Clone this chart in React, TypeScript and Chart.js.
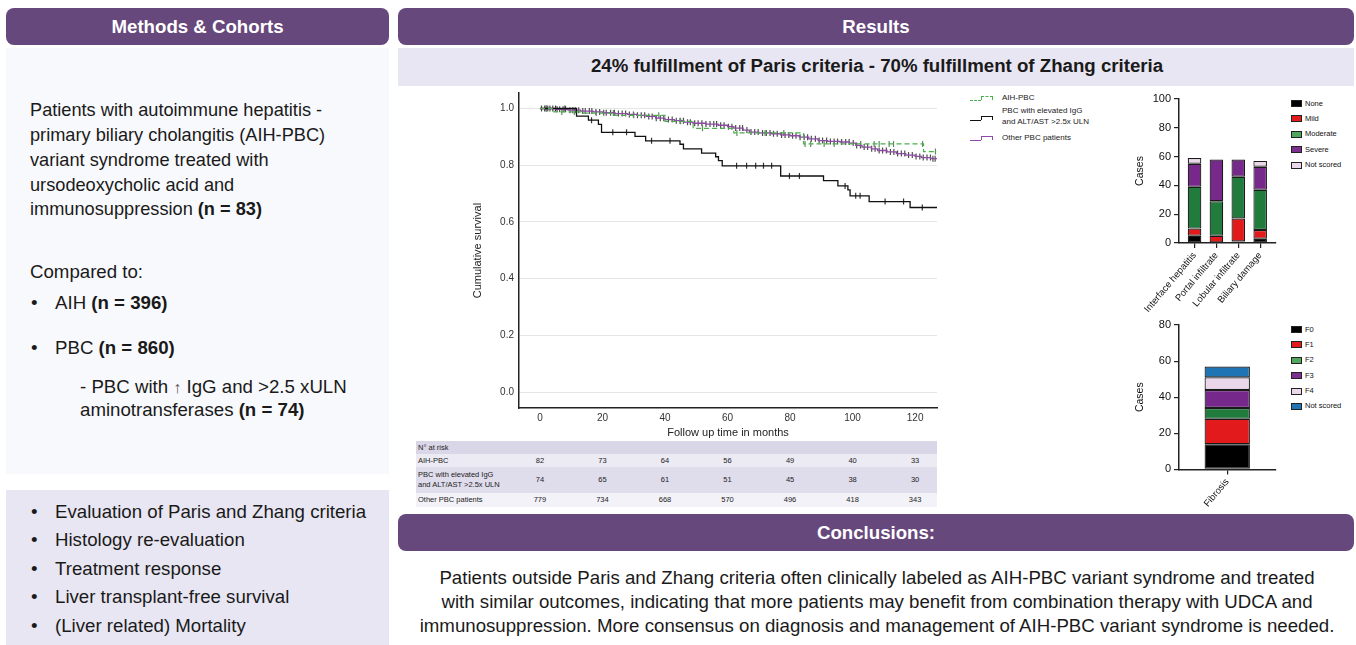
import React, { useEffect, useRef, useState } from 'react';
import { Chart, registerables } from 'chart.js';

Chart.register(...registerables);

// ---------------- Data ----------------
const kmXTicks = [0, 20, 40, 60, 80, 100, 120];
const kmYTicks = [0, 0.2, 0.4, 0.6, 0.8, 1.0];

const aihPbcTimes = [0, 4.5, 14, 24, 40, 49, 62, 84.3, 122.7, 127];
const aihPbcSurvival = [1.0, 0.988, 0.984, 0.976, 0.955, 0.93, 0.914, 0.875, 0.848, 0.848];
const aihPbcCensored = [2, 7, 11, 18, 23.5, 30, 38, 45, 52, 63, 72, 78, 84.8, 86.6, 90.9, 94.1, 102.6, 106.9, 108.5, 111.7, 113.1, 122.4, 126.5];

const pbcHighTimes = [0, 11.7, 15.5, 18.7, 19.7, 30.4, 33.8, 44.8, 45.9, 51.7, 56.2, 57.1, 58.3, 77, 90.7, 95.3, 98.5, 99.2, 105.3, 118.4, 127];
const pbcHighSurvival = [1.0, 0.973, 0.959, 0.944, 0.916, 0.902, 0.886, 0.874, 0.858, 0.843, 0.83, 0.816, 0.798, 0.762, 0.746, 0.727, 0.713, 0.692, 0.672, 0.651, 0.651];
const pbcHighCensored = [2, 5, 8, 16.5, 23.3, 27.7, 35.7, 41.6, 62.9, 66.1, 69, 71.5, 74.1, 79.8, 83, 97.6, 101, 102.4, 110.4, 116.3, 122.3];

const otherTimes = [0, 5, 9, 13, 17, 20, 24, 28, 31, 34, 37, 40, 43, 46, 49, 53, 57, 60, 62, 65, 67, 70, 74, 77, 80, 83, 86, 89, 92, 96, 99, 101, 103, 106, 108, 111, 114, 117, 120, 122, 125, 127];
const otherSurvival = [1.0, 0.997, 0.994, 0.991, 0.988, 0.985, 0.982, 0.979, 0.976, 0.972, 0.966, 0.961, 0.957, 0.952, 0.948, 0.945, 0.941, 0.936, 0.931, 0.924, 0.917, 0.914, 0.911, 0.907, 0.904, 0.899, 0.893, 0.887, 0.884, 0.882, 0.878, 0.87, 0.864, 0.858, 0.852, 0.847, 0.841, 0.836, 0.831, 0.827, 0.823, 0.821];
const otherCensored = [0.5, 1.5, 2.5, 3.2, 4.1, 5.5, 6.3, 7.4, 8.2, 9.6, 10.5, 11.3, 12.4, 13.7, 14.5, 15.8, 16.6, 17.9, 19.1, 20.4, 21.2, 22.6, 23.8, 25.1, 26.3, 27.4, 28.6, 29.9, 31.2, 32.4, 33.5, 34.8, 35.9, 37.2, 38.5, 39.6, 41.1, 42.3, 43.6, 44.8, 45.9, 47.2, 48.1, 49.5, 50.6, 51.8, 53.1, 54.4, 55.6, 56.5, 57.8, 58.9, 60.3, 61.4, 62.6, 63.9, 64.8, 66.2, 67.5, 68.7, 69.8, 71.2, 72.4, 73.6, 74.7, 75.9, 77.3, 78.4, 79.6, 80.8, 81.9, 83.2, 84.5, 85.6, 86.8, 88.1, 89.3, 90.4, 91.7, 92.9, 94.1, 95.2, 96.5, 97.8, 98.9, 100.2, 101.3, 102.5, 103.7, 104.8, 106.1, 107.2, 108.5, 109.6, 110.8, 112.1, 113.2, 114.4, 115.6, 116.7, 117.9, 119.1, 120.3, 121.5, 122.6, 123.8, 124.9, 125.7, 126.4];

const riskAihPbc = [82, 73, 64, 56, 49, 40, 33];
const riskPbcHigh = [74, 65, 61, 51, 45, 38, 30];
const riskOther = [779, 734, 668, 570, 496, 418, 343];

const histCategories = ['Interface hepatitis', 'Portal infiltrate', 'Lobular infiltrate', 'Biliary damage'];
const histSeries = ['None', 'Mild', 'Moderate', 'Severe', 'Not scored'];
const histNone = [5, 0, 1, 3];
const histMild = [5, 5, 16, 6];
const histModerate = [29, 24, 29, 28];
const histSevere = [16, 29, 12, 16];
const histNotScored = [4, 0, 0, 4];
const histYTicks = [0, 20, 40, 60, 80, 100];

const fibCategories = ['Fibrosis'];
const fibSeries = ['F0', 'F1', 'F2', 'F3', 'F4', 'Not scored'];
const fibF0 = [14];
const fibF1 = [14];
const fibF2 = [6];
const fibF3 = [10];
const fibF4 = [7];
const fibNotScored = [6];
const fibYTicks = [0, 20, 40, 60, 80];

// ---------------- Styles ----------------
const FONT = '"Liberation Sans", Arial, Helvetica, sans-serif';
const FS = 18.66;
const PURPLE = '#67487d';
const LAVENDER = '#e8e6f2';
const histColors = ['#000000', '#e31a1c', '#217b3d', '#76298b', '#ead7ea'];
const histLegendColors = ['#000000', '#e31a1c', '#4fa65c', '#7b2f8e', '#ead7ea'];
const fibColors = ['#000000', '#e31a1c', '#217b3d', '#76298b', '#ead7ea', '#1f74b4'];
const fibLegendColors = ['#000000', '#e31a1c', '#4fa65c', '#7b2f8e', '#ead7ea', '#1f74b4'];

Chart.defaults.font.family = FONT;

const KM = { left: 460, top: 88, width: 485, height: 352 };
const H1 = { left: 1120, top: 88, width: 165, height: 225 };
const H2 = { left: 1120, top: 313, width: 165, height: 195 };

const survAt = (times: number[], surv: number[], t: number) => {
  let s = surv[0];
  for (let i = 0; i < times.length; i++) if (times[i] <= t) s = surv[i];
  return s;
};
const steps = (times: number[], surv: number[]) => times.map((t, i) => ({ x: t, y: surv[i] }));
const marks = (cens: number[], times: number[], surv: number[]) => cens.map((t) => ({ x: t, y: survAt(times, surv, t) }));

function T(props: any) {
  const { x, cy, size = FS, lh = 24, bold = false, color = '#1a1a1a', align = 'left', w = 0, children } = props;
  const style: any = {
    position: 'absolute', top: cy - lh / 2, height: lh, lineHeight: lh + 'px', fontSize: size,
    fontWeight: bold ? 700 : 400, color, whiteSpace: 'nowrap',
  };
  if (align === 'center') { style.left = x - w / 2; style.width = w; style.textAlign = 'center'; }
  else style.left = x;
  return <div style={style}>{children}</div>;
}

function StepIcon(props: any) {
  const { left, top, color, dashed } = props;
  const st = dashed ? 'dashed' : 'solid';
  return (
    <>
      <div style={{ position: 'absolute', left, top: top + 4, width: 11, height: 0, borderTop: `1px ${st} ${color}` }} />
      <div style={{ position: 'absolute', left: left + 11, top, width: 10, height: 3, borderLeft: `1px ${st} ${color}`, borderTop: `1px ${st} ${color}`, borderRight: `1px ${st} ${color}` }} />
    </>
  );
}

function BarLegend(props: any) {
  const { labels, colors, centers } = props;
  return (
    <>
      {labels.map((l: string, i: number) => (
        <React.Fragment key={l}>
          <div style={{ position: 'absolute', left: 1291, top: centers[i] - 3.5, width: 11, height: 7, boxSizing: 'border-box', border: '1px solid #222', background: colors[i] }} />
          <T x={1305} cy={centers[i]} size={7.5} lh={10} color="#111">{l}</T>
        </React.Fragment>
      ))}
    </>
  );
}

const headerStyle = (left: number, top: number, width: number): any => ({
  position: 'absolute', left, top, width, height: 37, background: PURPLE, borderRadius: 8, color: '#fff',
  fontWeight: 700, fontSize: FS, display: 'flex', alignItems: 'center', justifyContent: 'center',
});

export default function App() {
  const kmRef = useRef<HTMLCanvasElement>(null);
  const h1Ref = useRef<HTMLCanvasElement>(null);
  const h2Ref = useRef<HTMLCanvasElement>(null);
  const [riskX, setRiskX] = useState<number[]>([]);

  useEffect(() => {
    const axisFont = { family: FONT, size: 10 };
    const titleFont = { family: FONT, size: 11 };
    const censorDs = (data: any[], color: string) => ({
      data, showLine: false, pointStyle: 'line', pointRotation: 90, pointRadius: 3,
      pointBorderColor: color, pointBorderWidth: 1.2, pointBackgroundColor: color, borderColor: color,
    });
    const km = new Chart(kmRef.current!, {
      type: 'line',
      data: {
        datasets: [
          { label: 'AIH-PBC', data: steps(aihPbcTimes, aihPbcSurvival), stepped: 'before', borderColor: '#4cae4c', borderDash: [5, 3], borderWidth: 1.2, pointRadius: 0, fill: false } as any,
          { label: 'PBC with elevated IgG and ALT/AST >2.5x ULN', data: steps(pbcHighTimes, pbcHighSurvival), stepped: 'before', borderColor: '#111111', borderWidth: 1.3, pointRadius: 0, fill: false },
          { label: 'Other PBC patients', data: steps(otherTimes, otherSurvival), stepped: 'before', borderColor: '#8e4aa5', borderWidth: 1.3, pointRadius: 0, fill: false },
          censorDs(marks(aihPbcCensored, aihPbcTimes, aihPbcSurvival), '#5a8f5a'),
          censorDs(marks(pbcHighCensored, pbcHighTimes, pbcHighSurvival), '#333333'),
          censorDs(marks(otherCensored, otherTimes, otherSurvival), '#4e4e4e'),
        ],
      },
      options: {
        animation: false, responsive: false, maintainAspectRatio: false,
        layout: { padding: { top: 5, right: 8, left: 0, bottom: 0 } },
        plugins: { legend: { display: false }, tooltip: { enabled: false } },
        scales: {
          x: {
            type: 'linear', min: -6.7, max: 127,
            afterBuildTicks: (s: any) => { s.ticks = kmXTicks.map((v) => ({ value: v })); },
            afterFit: (s: any) => { s.height = 32; s.paddingLeft = 0; s.paddingRight = 0; },
            grid: { display: false, drawTicks: false },
            border: { display: true, color: '#222', width: 1.5 },
            ticks: { font: axisFont, color: '#333', padding: 4, maxRotation: 0 },
            title: { display: true, text: 'Follow up time in months', font: titleFont, color: '#222', padding: { top: 0, bottom: 0 } },
          },
          y: {
            type: 'linear', min: -0.056, max: 1.054,
            afterBuildTicks: (s: any) => { s.ticks = kmYTicks.map((v) => ({ value: v })); },
            afterFit: (s: any) => { s.width = 59; s.paddingTop = 0; s.paddingBottom = 0; },
            grid: { color: '#e6e6e6', drawTicks: false, lineWidth: 1 },
            border: { display: true, color: '#222', width: 1.5 },
            ticks: { font: axisFont, color: '#333', padding: 5, callback: (v: any) => Number(v).toFixed(1) },
            title: { display: true, text: 'Cumulative survival', font: titleFont, color: '#222', padding: { top: 11, bottom: 0 } },
          },
        },
      } as any,
    });
    setRiskX(kmXTicks.map((t) => KM.left + km.scales.x.getPixelForValue(t)));

    const barScales = (yMax: number, yTicks: number[], xOpts: any, xHeight: number) => ({
      x: {
        ...xOpts,
        stacked: true,
        offset: xOpts.type === 'category',
        afterFit: (s: any) => { s.height = xHeight; s.paddingLeft = 0; s.paddingRight = 0; },
        grid: { offset: false, drawOnChartArea: false, drawTicks: true, tickLength: 5, color: '#222', lineWidth: 1.2 },
        border: { display: true, color: '#222', width: 1.5 },
        ticks: { ...(xOpts.ticks || {}), font: { family: FONT, size: 9.5 }, color: '#111', padding: 2, minRotation: 50, maxRotation: 50, autoSkip: false },
      },
      y: {
        stacked: true, min: 0, max: yMax,
        afterBuildTicks: (s: any) => { s.ticks = yTicks.map((v) => ({ value: v })); },
        afterFit: (s: any) => { s.width = 59; s.paddingTop = 0; s.paddingBottom = 0; },
        grid: { drawOnChartArea: false, drawTicks: true, tickLength: 5, color: '#222', lineWidth: 1.2 },
        border: { display: true, color: '#222', width: 1.5 },
        ticks: { font: { family: FONT, size: 11 }, color: '#111', padding: 3 },
        title: { display: true, text: 'Cases', font: { family: FONT, size: 10.5 }, color: '#111', padding: { top: 14, bottom: 0 } },
      },
    });

    const histValues = [histNone, histMild, histModerate, histSevere, histNotScored];
    const h1 = new Chart(h1Ref.current!, {
      type: 'bar',
      data: {
        datasets: histSeries.map((name, si) => ({
          label: name,
          data: histValues[si].map((v, ci) => ({ x: ci, y: v })),
          backgroundColor: histColors[si], borderColor: '#1a1a1a', borderWidth: 1.2, borderSkipped: false,
          categoryPercentage: 1, barPercentage: 0.62,
        })),
      },
      options: {
        animation: false, responsive: false, maintainAspectRatio: false,
        layout: { padding: { top: 11, right: 9.5, left: 0, bottom: 0 } },
        plugins: { legend: { display: false }, tooltip: { enabled: false } },
        scales: barScales(100, histYTicks, {
          type: 'linear', min: -0.71, max: 3.7,
          afterBuildTicks: (s: any) => { s.ticks = histCategories.map((_, i) => ({ value: i })); },
          ticks: { callback: (v: any) => histCategories[v] },
        }, 70),
      } as any,
    });

    const fibValues = [fibF0, fibF1, fibF2, fibF3, fibF4, fibNotScored];
    const h2 = new Chart(h2Ref.current!, {
      type: 'bar',
      data: {
        labels: fibCategories,
        datasets: fibSeries.map((name, si) => ({
          label: name, data: fibValues[si],
          backgroundColor: fibColors[si], borderColor: '#1a1a1a', borderWidth: 1.2, borderSkipped: false,
          categoryPercentage: 1, barPercentage: 0.47,
        })),
      },
      options: {
        animation: false, responsive: false, maintainAspectRatio: false,
        layout: { padding: { top: 12, right: 9.5, left: 0, bottom: 0 } },
        plugins: { legend: { display: false }, tooltip: { enabled: false } },
        scales: barScales(80, fibYTicks, { type: 'category' }, 38.6),
      } as any,
    });

    return () => { km.destroy(); h1.destroy(); h2.destroy(); };
  }, []);

  const riskRows = [
    { label: ['AIH-PBC'], values: riskAihPbc, top: 454, h: 13, bg: '#eceaf3' },
    { label: ['PBC with elevated IgG', 'and ALT/AST >2.5x ULN'], values: riskPbcHigh, top: 467, h: 26, bg: '#dfdcec' },
    { label: ['Other PBC patients'], values: riskOther, top: 493, h: 14, bg: '#f3f2f8' },
  ];

  const P = 18.2;

  return (
    <div style={{ position: 'absolute', left: 0, top: 0, width: 1356, height: 645, background: '#ffffff', fontFamily: FONT, overflow: 'hidden', color: '#1a1a1a' }}>
      {/* Left column */}
      <div style={headerStyle(6, 8, 383)}>Methods &amp; Cohorts</div>
      <div style={{ position: 'absolute', left: 6, top: 48, width: 383, height: 426, background: '#f8f9fc' }} />
      <T x={30} cy={110} size={P}>Patients with autoimmune hepatitis -</T>
      <T x={30} cy={135} size={P}>primary biliary cholangitis (AIH-PBC)</T>
      <T x={30} cy={160} size={P}>variant syndrome treated with</T>
      <T x={30} cy={185} size={P}>ursodeoxycholic acid and</T>
      <T x={30} cy={209} size={P}>immunosuppression <b>(n = 83)</b></T>
      <T x={30} cy={272}>Compared to:</T>
      <T x={31} cy={303}>•</T>
      <T x={55} cy={303}>AIH <b>(n = 396)</b></T>
      <T x={31} cy={348}>•</T>
      <T x={55} cy={348}>PBC <b>(n = 860)</b></T>
      <T x={80} cy={387}>- PBC with <span style={{ color: '#555', fontSize: 16 }}>↑</span>  IgG and &gt;2.5 xULN</T>
      <T x={80} cy={410}>aminotransferases <b>(n = 74)</b></T>

      <div style={{ position: 'absolute', left: 6, top: 490, width: 383, height: 155, background: LAVENDER }} />
      {['Evaluation of Paris and Zhang criteria', 'Histology re-evaluation', 'Treatment response', 'Liver transplant-free survival', '(Liver related) Mortality'].map((s, i) => (
        <React.Fragment key={s}>
          <T x={31} cy={512 + i * 28.4}>•</T>
          <T x={55} cy={512 + i * 28.4}>{s}</T>
        </React.Fragment>
      ))}

      {/* Results */}
      <div style={headerStyle(398, 8, 956)}>Results</div>
      <div style={{ position: 'absolute', left: 398, top: 48, width: 956, height: 38, background: LAVENDER }} />
      <T x={877} cy={66} bold align="center" w={956}>24% fulfillment of Paris criteria - 70% fulfillment of Zhang criteria</T>

      <canvas ref={kmRef} width={KM.width} height={KM.height} style={{ position: 'absolute', left: KM.left, top: KM.top, width: KM.width, height: KM.height }} />

      {/* KM legend */}
      <StepIcon left={970} top={96} color="#4cae4c" dashed />
      <T x={1002} cy={97.5} size={8} lh={10} color="#222">AIH-PBC</T>
      <StepIcon left={970} top={116} color="#111" />
      <T x={1002} cy={111} size={8} lh={10} color="#222">PBC with elevated IgG</T>
      <T x={1002} cy={121.5} size={8} lh={10} color="#222">and ALT/AST &gt;2.5x ULN</T>
      <StepIcon left={970} top={136} color="#8e4aa5" />
      <T x={1002} cy={137.5} size={8} lh={10} color="#222">Other PBC patients</T>

      {/* Risk table */}
      <div style={{ position: 'absolute', left: 416, top: 441, width: 521, height: 13, background: '#d9d6e8' }} />
      <T x={418} cy={447.5} size={7.5} lh={10} color="#222">N° at risk</T>
      {riskRows.map((r, ri) => (
        <React.Fragment key={ri}>
          <div style={{ position: 'absolute', left: 416, top: r.top, width: 521, height: r.h, background: r.bg }} />
          {r.label.map((l, li) => (
            <T key={l} x={418} cy={r.top + r.h / 2 + (li - (r.label.length - 1) / 2) * 10} size={7.5} lh={10} color="#222">{l}</T>
          ))}
          {riskX.length > 0 && r.values.map((v, vi) => (
            <T key={vi} x={riskX[vi]} cy={r.top + r.h / 2} size={7.5} lh={10} color="#222" align="center" w={30}>{v}</T>
          ))}
        </React.Fragment>
      ))}

      {/* Histology charts */}
      <canvas ref={h1Ref} width={H1.width} height={H1.height} style={{ position: 'absolute', left: H1.left, top: H1.top, width: H1.width, height: H1.height }} />
      <BarLegend labels={histSeries} colors={histLegendColors} centers={[103.6, 118.9, 134.3, 149.8, 165.3]} />
      <canvas ref={h2Ref} width={H2.width} height={H2.height} style={{ position: 'absolute', left: H2.left, top: H2.top, width: H2.width, height: H2.height }} />
      <BarLegend labels={fibSeries} colors={fibLegendColors} centers={[329.5, 344.8, 360.1, 375.6, 391, 406.3]} />

      {/* Conclusions */}
      <div style={headerStyle(398, 514, 956)}>Conclusions:</div>
      <T x={877} cy={578} align="center" w={956}>Patients outside Paris and Zhang criteria often clinically labeled as AIH-PBC variant syndrome and treated</T>
      <T x={877} cy={602} align="center" w={956}>with similar outcomes, indicating that more patients may benefit from combination therapy with UDCA and</T>
      <T x={877} cy={626} align="center" w={956}>immunosuppression. More consensus on diagnosis and management of AIH-PBC variant syndrome is needed.</T>
    </div>
  );
}
